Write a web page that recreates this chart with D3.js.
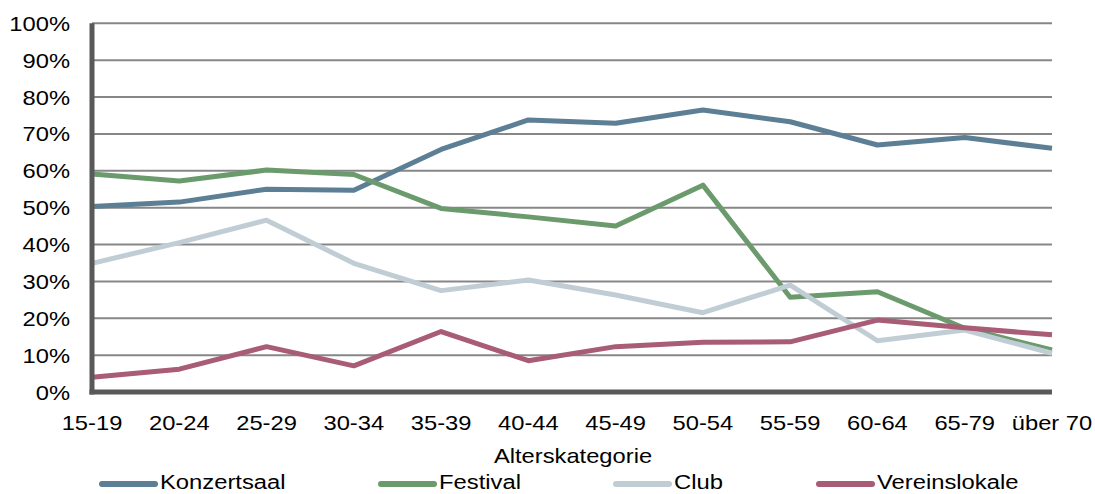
<!DOCTYPE html>
<html>
<head>
<meta charset="utf-8">
<script src="https://cdn.jsdelivr.net/npm/d3@7"></script>
<style>
  html, body { margin: 0; padding: 0; background: #fff; }
  svg { display: block; }
  text { font-family: "Liberation Sans", Arial, sans-serif; fill: #000; }
</style>
</head>
<body>
<svg id="chart" width="1095" height="494"></svg>
<script>
// Age groups on the x axis
const categories = ["15-19", "20-24", "25-29", "30-34", "35-39", "40-44",
  "45-49", "50-54", "55-59", "60-64", "65-79", "über 70"];

// Share of respondents per venue type (percent)
const konzertsaal   = [50.3, 51.5, 55.0, 54.7, 65.8, 73.8, 72.9, 76.5, 73.3, 67.0, 69.0, 66.1];
const festival      = [59.1, 57.2, 60.2, 59.0, 49.8, 47.5, 45.0, 56.1, 25.7, 27.2, 17.3, 11.4];
const club          = [34.9, 40.5, 46.6, 34.9, 27.5, 30.4, 26.3, 21.5, 29.0, 13.9, 16.8, 10.5];
const vereinslokale = [4.0, 6.2, 12.3, 7.1, 16.4, 8.5, 12.3, 13.5, 13.6, 19.5, 17.4, 15.5];

const seriesNames = ["Konzertsaal", "Festival", "Club", "Vereinslokale"];
const yTicks = [0, 10, 20, 30, 40, 50, 60, 70, 80, 90, 100];

const series = [
  { name: seriesNames[0], values: konzertsaal,   color: "#5c7f95" },
  { name: seriesNames[1], values: festival,      color: "#6b9a6d" },
  { name: seriesNames[2], values: club,          color: "#c1cdd4" },
  { name: seriesNames[3], values: vereinslokale, color: "#a85c75" }
];

const svg = d3.select("#chart");
const plotLeft = 92, plotRight = 1052, plotTop = 23.3, plotBottom = 392;
const stretch = 1.13;   // slightly wide lettering

const x = d3.scalePoint().domain(categories).range([plotLeft, plotRight]);
const y = d3.scaleLinear().domain([0, 100]).range([plotBottom, plotTop]);

function label(g, tx, ty, str, anchor, size, sx = stretch) {
  g.append("text")
    .attr("transform", `translate(${tx},${ty}) scale(${sx},1)`)
    .attr("text-anchor", anchor)
    .style("font-size", size + "px")
    .text(str);
}

// horizontal gridlines
svg.append("g").selectAll("line")
  .data(yTicks.filter(t => t > 0))
  .join("line")
  .attr("x1", plotLeft).attr("x2", plotRight)
  .attr("y1", d => y(d)).attr("y2", d => y(d))
  .attr("stroke", "#878787").attr("stroke-width", 2);

// y-axis labels
const yAxisG = svg.append("g");
yTicks.forEach(t => label(yAxisG, 70, y(t) + 7.5, t + "%", "end", 21));

// x-axis labels
const xAxisG = svg.append("g");
categories.forEach(c => label(xAxisG, x(c), 430, c, "middle", 21));

// axis title
label(svg, 573, 463, "Alterskategorie", "middle", 21);

// series lines
const line = d3.line()
  .x((d, i) => x(categories[i]))
  .y(d => y(d));

svg.append("g").selectAll("path")
  .data(series)
  .join("path")
  .attr("d", d => line(d.values))
  .attr("fill", "none")
  .attr("stroke", d => d.color)
  .attr("stroke-width", 5)
  .attr("stroke-linejoin", "round");

// axes drawn on top
svg.append("line")
  .attr("x1", plotLeft).attr("x2", plotLeft)
  .attr("y1", plotTop).attr("y2", plotBottom + 2.5)
  .attr("stroke", "#595959").attr("stroke-width", 5);
svg.append("line")
  .attr("x1", plotLeft - 2.5).attr("x2", plotRight)
  .attr("y1", plotBottom).attr("y2", plotBottom)
  .attr("stroke", "#595959").attr("stroke-width", 5);

// legend
const legendX = [102, 381, 616, 819];
const legend = svg.append("g");
series.forEach((s, i) => {
  legend.append("line")
    .attr("x1", legendX[i]).attr("x2", legendX[i] + 53)
    .attr("y1", 484).attr("y2", 484)
    .attr("stroke", s.color).attr("stroke-width", 6)
    .attr("stroke-linecap", "round");
  label(legend, legendX[i] + 58, 489, s.name, "start", 20, 1.19);
});
</script>
</body>
</html>
